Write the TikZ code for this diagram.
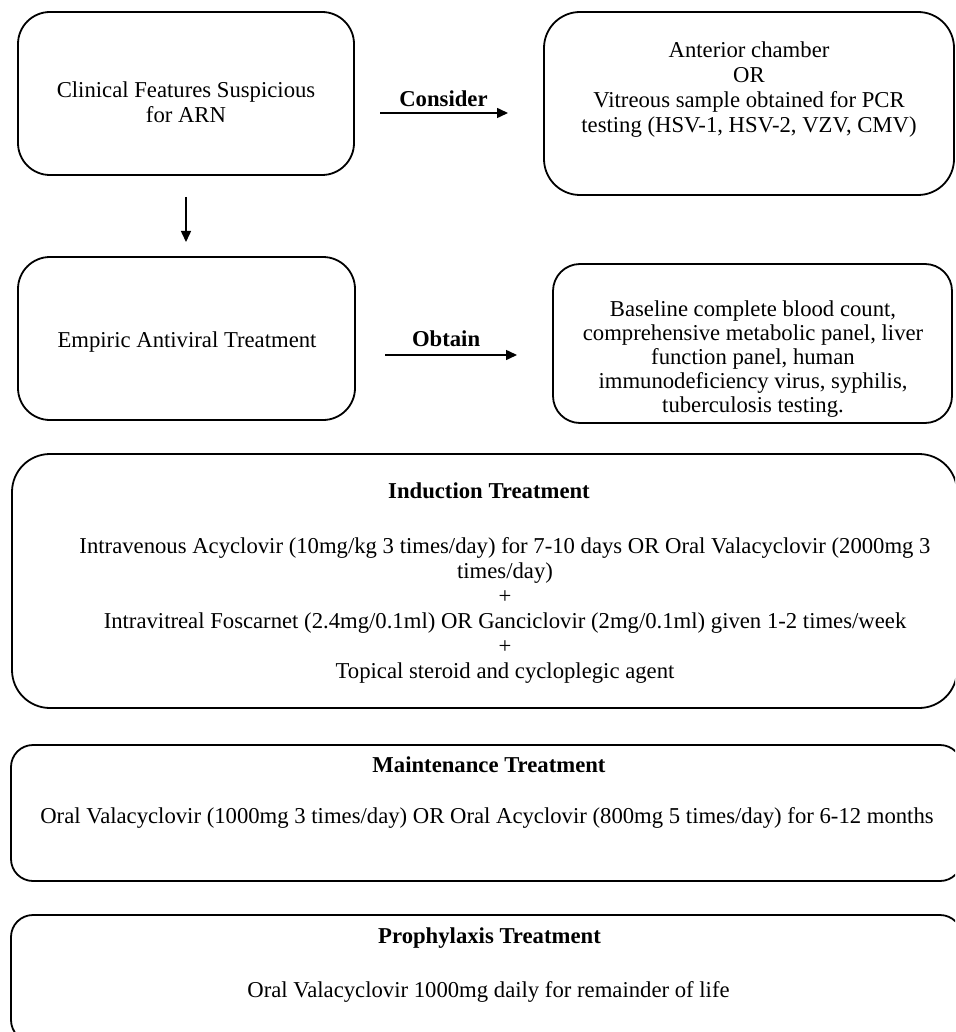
\documentclass[tikz,border=0pt]{standalone}
\usepackage{fontspec}
\setmainfont{Liberation Serif}
\usetikzlibrary{arrows.meta}
\newcommand\firstrule{\rule{0pt}{16pt}}
\begin{document}
\begin{tikzpicture}[x=1pt,y=-1pt,
  box/.style={draw, line width=1.8pt, rounded corners=#1, inner sep=0pt, outer sep=0pt},
  box/.default=30pt,
  txt/.style={anchor=north, inner sep=0pt, align=center, font=\fontsize{22.7}{25}\selectfont},
  ttl/.style={txt, font=\fontsize{22.7}{25}\selectfont\bfseries},
  lab/.style={inner sep=0pt, font=\fontsize{22.7}{25}\selectfont\bfseries},
  arr/.style={line width=1.5pt, -{Triangle[length=11pt,width=10pt]}}]
\useasboundingbox (0,0) rectangle (955,1032);
\clip (0,0) rectangle (955,1032);

% boxes
\node[box=32pt, minimum width=336pt, minimum height=163pt] (b1) at (186,93.5) {};
\node[box=32pt, minimum width=337pt, minimum height=163pt] (b2) at (186.5,338.5) {};
\node[box=36pt, minimum width=410pt, minimum height=183pt] (b3) at (749,103.5) {};
\node[box=27pt, minimum width=399pt, minimum height=159pt] (b4) at (752.5,343.5) {};
\node[box=38pt, minimum width=945pt, minimum height=254pt] (b5) at (484.5,581) {};
\node[box=22pt, minimum width=951pt, minimum height=136pt] (b6) at (486.5,813) {};
\node[box=22pt, minimum width=951pt, minimum height=127pt] (b7) at (486.5,978.5) {};

% texts
\node[txt] (t1) at (186,81) {\firstrule Clinical Features Suspicious\\for ARN};
\node[txt] (t2) at (187,331) {\firstrule Empiric Antiviral Treatment};
\node[txt] (t3) at (749,41) {\firstrule Anterior chamber\\OR\\Vitreous sample obtained for PCR\\testing (HSV-1, HSV-2, VZV, CMV)};
\node[txt, font=\fontsize{22.7}{24}\selectfont] (t4) at (753,300) {\firstrule Baseline complete blood count,\\comprehensive metabolic panel, liver\\function panel, human\\immunodeficiency virus, syphilis,\\tuberculosis testing.};
\node[ttl] (t5a) at (489,482) {\firstrule Induction Treatment};
\node[txt] (t5b) at (505,537) {\firstrule Intravenous Acyclovir (10mg/kg 3 times/day) for 7-10 days OR Oral Valacyclovir (2000mg 3\\times/day)\\+\\Intravitreal Foscarnet (2.4mg/0.1ml) OR Ganciclovir (2mg/0.1ml) given 1-2 times/week\\+\\Topical steroid and cycloplegic agent};
\node[ttl] (t6a) at (489,756) {\firstrule Maintenance Treatment};
\node[txt] (t6b) at (487,807) {\firstrule Oral Valacyclovir (1000mg 3 times/day) OR Oral Acyclovir (800mg 5 times/day) for 6-12 months};
\node[ttl] (t7a) at (489.5,927) {\firstrule Prophylaxis Treatment};
\node[txt] (t7b) at (488.5,981) {\firstrule Oral Valacyclovir 1000mg daily for remainder of life};

% connectors
\draw[arr, shorten <=22pt, shorten >=15pt] (b1.south) -- (b1.south |- b2.north);
\draw[arr, shorten <=26pt, shorten >=36pt] ([yshift=-19.5pt]b1.east) -- ([yshift=-19.5pt]b1.east -| b3.west)
  node[lab, pos=0.471, above=6pt] {Consider};
\draw[arr, shorten <=30pt, shorten >=36pt] ([yshift=-16.5pt]b2.east) -- ([yshift=-16.5pt]b2.east -| b4.west)
  node[lab, pos=0.46, above=8pt] {Obtain};
\end{tikzpicture}
\end{document}
